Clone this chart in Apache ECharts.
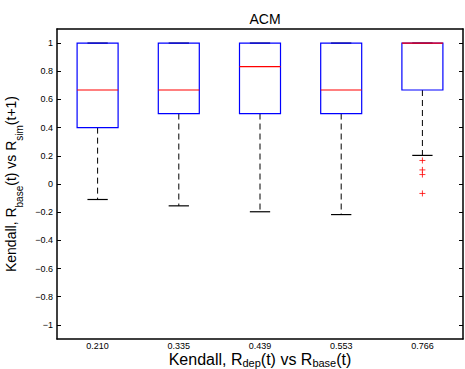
<!DOCTYPE html>
<html>
<head>
<meta charset="utf-8">
<script src="https://cdn.jsdelivr.net/npm/echarts@6/dist/echarts.min.js"></script>
<style>html,body{margin:0;padding:0;background:#fff;}#c{width:465px;height:369px;}</style>
</head>
<body>
<div id="c"></div>
<script>
var categories = ['0.210', '0.335', '0.439', '0.553', '0.766'];
var whiskerLow = [-0.11, -0.155, -0.197, -0.217, 0.203];
var q1 = [0.40, 0.50, 0.50, 0.50, 0.667];
var median = [0.667, 0.667, 0.833, 0.667, 1.0];
var q3 = [1.0, 1.0, 1.0, 1.0, 1.0];
var whiskerHigh = [1.0, 1.0, 1.0, 1.0, 1.0];
var outlierCat = ['0.766', '0.766', '0.766', '0.766'];
var outlierVal = [0.167, 0.100, 0.067, -0.067];
var yTicks = [-1, -0.8, -0.6, -0.4, -0.2, 0, 0.2, 0.4, 0.6, 0.8, 1];
var yTickLabels = ['\u22121', '\u22120.8', '\u22120.6', '\u22120.4', '\u22120.2', '0', '0.2', '0.4', '0.6', '0.8', '1'];

var boxData = categories.map(function (c, i) {
  return [i, whiskerLow[i], q1[i], median[i], q3[i], whiskerHigh[i]];
});
var outlierData = outlierCat.map(function (c, i) { return [c, outlierVal[i]]; });

var FONT = '"Liberation Sans", Arial, Helvetica, sans-serif';
var chart = echarts.init(document.getElementById('c'), null, { renderer: 'svg' });

function renderBox(params, api) {
  var x = api.value(0);
  var mn = api.value(1), a = api.value(2), md = api.value(3), b = api.value(4), mx = api.value(5);
  var band = api.size([1, 0])[0];
  var bw = band * 0.505, cw = band * 0.25;
  var pMin = api.coord([x, mn]), pA = api.coord([x, a]), pMd = api.coord([x, md]);
  var pB = api.coord([x, b]), pMx = api.coord([x, mx]);
  var cx = pMin[0];
  var dash = { stroke: '#000', lineWidth: 1, lineDash: [6, 4], fill: null };
  var solid = { stroke: '#000', lineWidth: 1.2, fill: null };
  return {
    type: 'group',
    children: [
      { type: 'line', shape: { x1: cx, y1: pA[1], x2: cx, y2: pMin[1] }, style: dash },
      { type: 'line', shape: { x1: cx, y1: pB[1], x2: cx, y2: pMx[1] }, style: dash },
      { type: 'line', shape: { x1: cx - cw / 2, y1: pMin[1], x2: cx + cw / 2, y2: pMin[1] }, style: solid },
      { type: 'line', shape: { x1: cx - cw / 2, y1: pMx[1], x2: cx + cw / 2, y2: pMx[1] }, style: solid },
      { type: 'rect', shape: { x: cx - bw / 2, y: pB[1], width: bw, height: pA[1] - pB[1] },
        style: { stroke: '#0000ff', lineWidth: 1.2, fill: null } },
      { type: 'line', shape: { x1: cx - bw / 2, y1: pMd[1], x2: cx + bw / 2, y2: pMd[1] },
        style: { stroke: '#ff0000', lineWidth: 1.2, fill: null } }
    ]
  };
}

var axisLine = { show: true, onZero: false, lineStyle: { color: '#000', width: 1.5 } };

chart.setOption({
  animation: false,
  backgroundColor: '#fff',
  title: {
    text: 'ACM', left: 260, top: 7, textAlign: 'center',
    textStyle: { fontFamily: FONT, fontSize: 14, fontWeight: 'normal', color: '#000' }
  },
  grid: { left: 57, right: 2, top: 29, bottom: 30, containLabel: false, outerBoundsMode: 'none' },
  xAxis: [{
    type: 'category', data: categories, position: 'bottom',
    axisLine: axisLine, axisTick: { show: false },
    axisLabel: { fontFamily: FONT, fontSize: 9, color: '#000', margin: 2, lineHeight: 9 },
    splitLine: { show: false },
    name: '{m|Kendall, R}{sub|dep}{m|(t) vs R}{sub|base}{m|(t)}',
    nameLocation: 'middle', nameGap: 12.5, nameMoveOverlap: false,
    nameTextStyle: {
      fontFamily: FONT, fontSize: 16, color: '#000', verticalAlign: 'top',
      rich: {
        m: { fontFamily: FONT, fontSize: 16, color: '#000', verticalAlign: 'top', lineHeight: 12 },
        sub: { fontFamily: FONT, fontSize: 11, color: '#000', verticalAlign: 'top', lineHeight: 9, padding: [6, 0, 0, 0] }
      }
    }
  }, {
    type: 'category', data: categories, position: 'top',
    axisLine: axisLine, axisTick: { show: false }, axisLabel: { show: false }, splitLine: { show: false }
  }],
  yAxis: [{
    type: 'value', min: -1.1, max: 1.1, position: 'left',
    axisLine: axisLine,
    axisTick: { show: true, inside: true, length: 4, customValues: yTicks, lineStyle: { color: '#000', width: 1 } },
    axisLabel: {
      fontFamily: FONT, fontSize: 9, color: '#000', margin: 4, customValues: yTicks,
      formatter: function (v) {
        for (var i = 0; i < yTicks.length; i++) if (Math.abs(yTicks[i] - v) < 1e-6) return yTickLabels[i];
        return '';
      }
    },
    splitLine: { show: false },
    name: 'Kendall, R{sub|base}(t) vs R{sub|sim}(t+1)',
    nameLocation: 'middle', nameRotate: 90, nameGap: 27,
    nameTextStyle: {
      fontFamily: FONT, fontSize: 14, color: '#000', verticalAlign: 'bottom',
      rich: {
        sub: { fontFamily: FONT, fontSize: 10, color: '#000', verticalAlign: 'top', lineHeight: 10, padding: [10, 0, 0, 0] }
      }
    }
  }, {
    type: 'value', min: -1.1, max: 1.1, position: 'right',
    axisLine: axisLine,
    axisTick: { show: true, inside: true, length: 4, customValues: yTicks, lineStyle: { color: '#000', width: 1 } },
    axisLabel: { show: false }, splitLine: { show: false }
  }],
  series: [{
    type: 'custom', xAxisIndex: 0, yAxisIndex: 0,
    renderItem: renderBox, data: boxData, encode: { x: 0, y: [1, 2, 3, 4, 5] }
  }, {
    type: 'scatter', xAxisIndex: 0, yAxisIndex: 0, data: outlierData,
    symbol: 'path://M5,0L5,10M0,5L10,5', symbolSize: 6,
    itemStyle: { color: 'none', borderColor: '#ff0000', borderWidth: 1 }
  }]
});
</script>
</body>
</html>
